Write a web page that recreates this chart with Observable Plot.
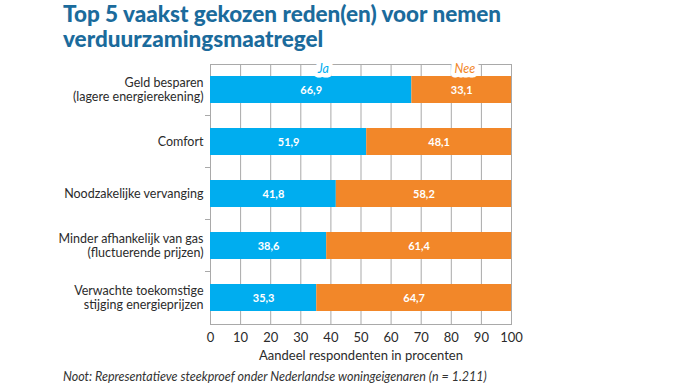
<!DOCTYPE html>
<html>
<head>
<meta charset="utf-8">
<script src="https://cdn.jsdelivr.net/npm/d3@7"></script>
<script src="https://cdn.jsdelivr.net/npm/@observablehq/plot@0.6"></script>
<style>
  html, body { margin: 0; padding: 0; background: #fff; width: 690px; height: 388px; overflow: hidden; }
  body { font-family: Lato, "Open Sans", sans-serif; }
  #title { font-weight: 900; font-size: 22.5px; line-height: 25px; color: #1b6b9c; padding: 1px 0 0 63px; height: 50px; box-sizing: border-box; }
  #chart { height: 316px; }
  #note { font-style: italic; font-size: 12.5px; color: #333; padding-left: 63px; line-height: 22px; height: 22px; }
  svg { display: block; }
</style>
</head>
<body>
<div id="title">Top 5 vaakst gekozen reden(en) voor nemen<br>verduurzamingsmaatregel</div>
<div id="chart"></div>
<div id="note">Noot: Representatieve steekproef onder Nederlandse woningeigenaren (n = 1.211)</div>
<script>
const categories = [
  "Geld besparen\n(lagere energierekening)",
  "Comfort",
  "Noodzakelijke vervanging",
  "Minder afhankelijk van gas\n(fluctuerende prijzen)",
  "Verwachte toekomstige\nstijging energieprijzen"
];
const ja = [66.9, 51.9, 41.8, 38.6, 35.3];
const nee = [33.1, 48.1, 58.2, 61.4, 64.7];
const series = ["Ja", "Nee"];
const seriesLabelAt = [37.5, 84.5];
const xTicks = [0, 10, 20, 30, 40, 50, 60, 70, 80, 90, 100];
const colors = ["#00adef", "#f28729"];
const xLabel = "Aandeel respondenten in procenten";

const rows = [];
categories.forEach((c, i) => rows.push({cat: c, series: "Ja", value: ja[i]}));
categories.forEach((c, i) => rows.push({cat: c, series: "Nee", value: nee[i]}));
const fmt = v => v.toFixed(1).replace(".", ",");
const legend = series.map((s, i) => ({series: s, at: seriesLabelAt[i]}));

const grey = "#a9a9a9";
const plot = Plot.plot({
  width: 690,
  height: 316,
  marginLeft: 210,
  marginRight: 179,
  marginTop: 14,
  marginBottom: 42,
  style: {fontFamily: "Lato, sans-serif", color: "#2b2b2b", background: "#fff"},
  x: {domain: [0, 100], ticks: xTicks},
  y: {domain: categories, paddingInner: 0.48, paddingOuter: 0.24},
  color: {domain: series, range: colors},
  marks: [
    Plot.gridX(xTicks, {stroke: grey, strokeOpacity: 1, strokeWidth: 1}),
    Plot.frame({stroke: grey, strokeWidth: 1}),
    Plot.barX(rows, Plot.stackX({x: "value", y: "cat", fill: "series"})),
    Plot.text(rows, Plot.stackX({x: "value", y: "cat", z: "series", text: d => fmt(d.value), fill: "white", fontWeight: "bold", fontSize: 11})),
    Plot.text(legend, {x: "at", frameAnchor: "top", text: "series", fill: "series", stroke: "white", strokeWidth: 9, fontStyle: "italic", fontSize: 12.5}),
    Plot.axisX({ticks: xTicks, tickSize: 0, tickPadding: 8, fontSize: 13, label: xLabel, labelAnchor: "center", labelArrow: "none", labelOffset: 35}),
    Plot.axisY({tickSize: 0, tickPadding: 7, fontSize: 12.5, lineHeight: 1.12, label: null})
  ]
});
document.getElementById("chart").appendChild(plot);

// small tick marks on the left axis between categories, through the band scale
const ys = plot.scale("y");
const svg = d3.select(plot);
const boundaries = categories.slice(1).map(c => ys.apply(c) - (ys.step - ys.bandwidth) / 2);
svg.append("g").attr("stroke", grey)
  .selectAll("line").data(boundaries).join("line")
  .attr("x1", 205).attr("x2", 210)
  .attr("y1", d => d).attr("y2", d => d);
</script>
</body>
</html>
